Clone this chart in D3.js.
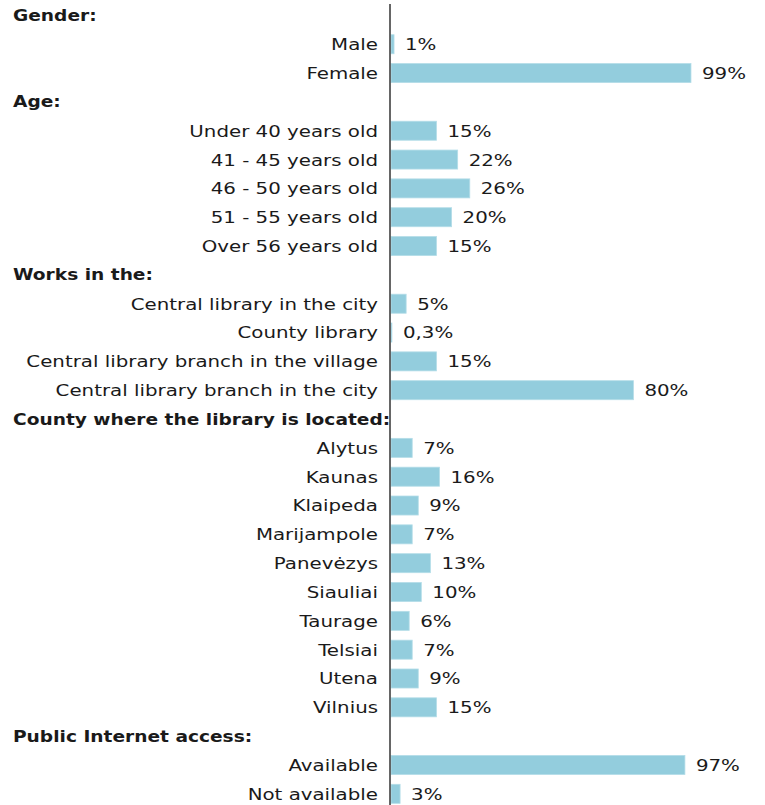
<!DOCTYPE html>
<html>
<head>
<meta charset="utf-8">
<script src="https://cdn.jsdelivr.net/npm/d3@7"></script>
<style>
  body { margin: 0; background: #fff; }
  text { font-family: "DejaVu Sans", Verdana, sans-serif; fill: #1a1a1a; }
</style>
</head>
<body>
<script>
// rows of the chart, top to bottom (headers have no value)
var rowLabels = [
    "Gender:", "Male", "Female",
    "Age:", "Under 40 years old", "41 - 45 years old", "46 - 50 years old", "51 - 55 years old", "Over 56 years old",
    "Works in the:", "Central library in the city", "County library", "Central library branch in the village", "Central library branch in the city",
    "County where the library is located:", "Alytus", "Kaunas", "Klaipeda", "Marijampole", "Panevėzys", "Siauliai", "Taurage", "Telsiai", "Utena", "Vilnius",
    "Public Internet access:", "Available", "Not available"
];
var isHeader = [
    true, false, false,
    true, false, false, false, false, false,
    true, false, false, false, false,
    true, false, false, false, false, false, false, false, false, false, false,
    true, false, false
];
var values = [
    null, 1, 99,
    null, 15, 22, 26, 20, 15,
    null, 5, 0.3, 15, 80,
    null, 7, 16, 9, 7, 13, 10, 6, 7, 9, 15,
    null, 97, 3
];
var valueLabels = [
    "", "1%", "99%",
    "", "15%", "22%", "26%", "20%", "15%",
    "", "5%", "0,3%", "15%", "80%",
    "", "7%", "16%", "9%", "7%", "13%", "10%", "6%", "7%", "9%", "15%",
    "", "97%", "3%"
];

var width = 765, height = 805;
var axisX = 390;
var stretch = 1.2; // the text in the original is drawn wide

var svg = d3.select("body")
    .append("svg")
    .attr("width", width)
    .attr("height", height);

var yScale = d3.scaleBand()
    .domain(d3.range(rowLabels.length))
    .range([1, 1 + 28.83 * rowLabels.length])
    .paddingInner(0.34)
    .paddingOuter(0.17);

var xScale = d3.scaleLinear()
    .domain([0, 100])
    .range([axisX + 1, axisX + 304]);

var rows = d3.range(rowLabels.length);

function place(x, i) {
    return "translate(" + x + "," + (yScale(i) + yScale.bandwidth() / 2) + ") scale(" + stretch + ",1)";
}

// bars
svg.selectAll("rect.bar")
    .data(rows.filter(function(i){ return !isHeader[i]; }))
    .enter()
    .append("rect")
    .attr("class", "bar")
    .attr("x", xScale(0))
    .attr("y", function(i){ return yScale(i); })
    .attr("width", function(i){ return xScale(values[i]) - xScale(0); })
    .attr("height", yScale.bandwidth())
    .attr("fill", "#93cddd")
    .attr("stroke", "#b4dde8")
    .attr("stroke-width", 0.8);

// category labels and headers
svg.selectAll("text.label")
    .data(rows)
    .enter()
    .append("text")
    .attr("class", "label")
    .attr("transform", function(i){ return place(isHeader[i] ? 13 : axisX - 12, i); })
    .attr("dy", "0.36em")
    .attr("text-anchor", function(i){ return isHeader[i] ? "start" : "end"; })
    .attr("font-weight", function(i){ return isHeader[i] ? "bold" : "normal"; })
    .attr("font-size", function(i){ return isHeader[i] ? "15.5px" : "16.5px"; })
    .text(function(i){ return rowLabels[i]; });

// value labels
svg.selectAll("text.value")
    .data(rows.filter(function(i){ return !isHeader[i]; }))
    .enter()
    .append("text")
    .attr("class", "value")
    .attr("transform", function(i){ return place(xScale(values[i]) + 11, i); })
    .attr("dy", "0.36em")
    .attr("font-size", "16.5px")
    .text(function(i){ return valueLabels[i]; });

// vertical axis line
svg.append("line")
    .attr("x1", axisX).attr("x2", axisX)
    .attr("y1", 4).attr("y2", height)
    .attr("stroke", "#333")
    .attr("stroke-width", 1.5);
</script>
</body>
</html>
